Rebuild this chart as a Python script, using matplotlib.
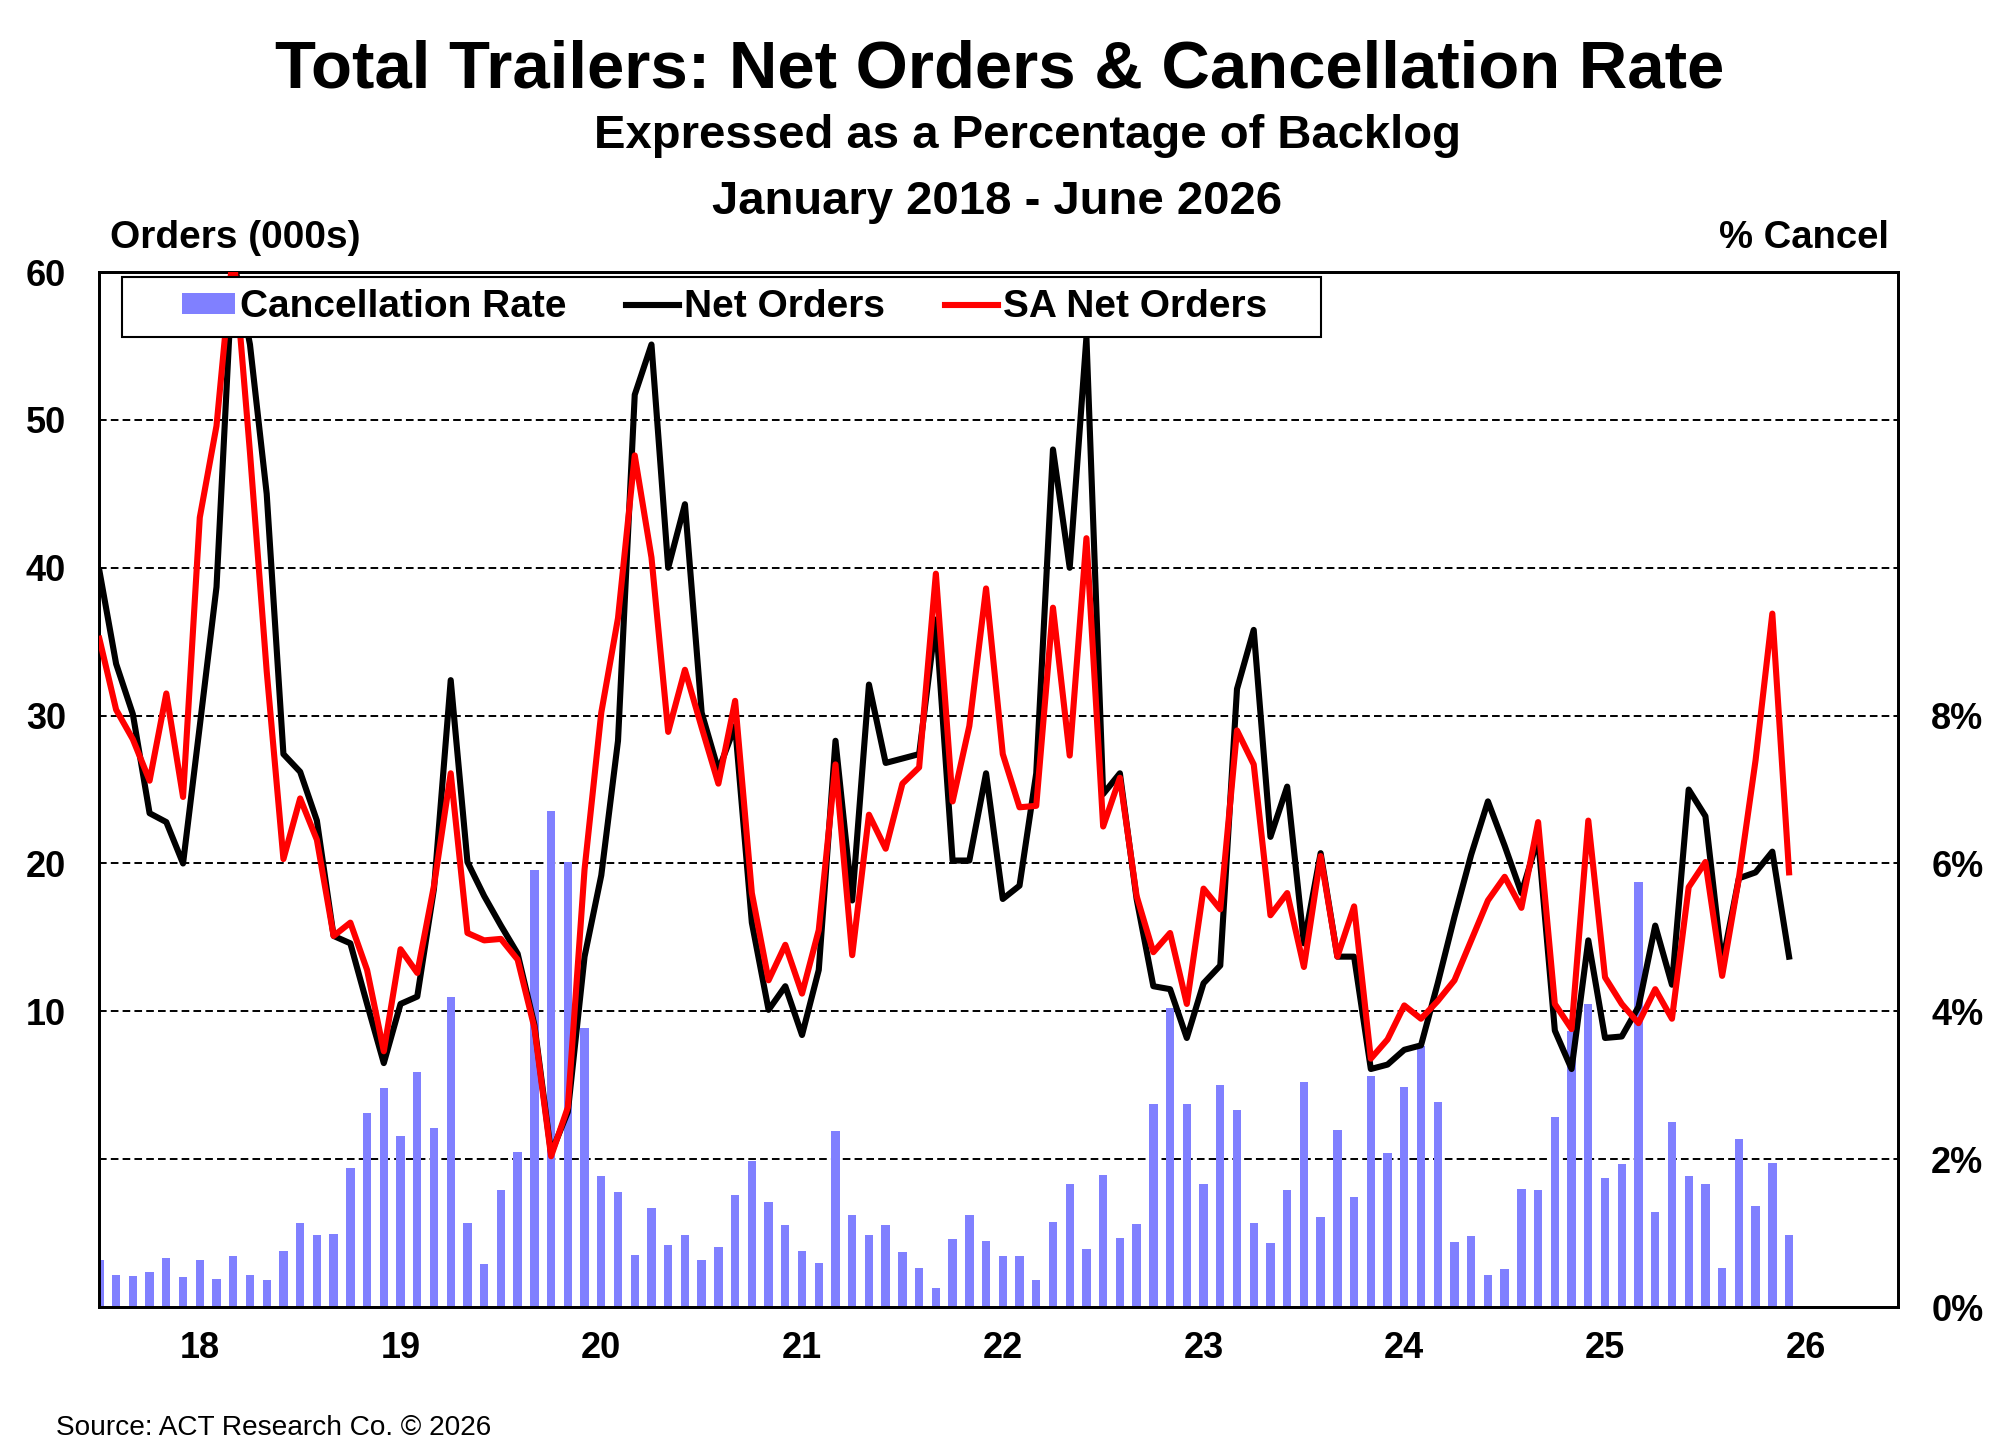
import numpy as np
import matplotlib
matplotlib.use('Agg')
import matplotlib.pyplot as plt
from matplotlib.patches import Patch, Rectangle
from matplotlib.lines import Line2D

plt.rcParams['font.family'] = ['Liberation Sans', 'DejaVu Sans']
plt.rcParams['font.weight'] = 'bold'
plt.rcParams['lines.scale_dashes'] = False

# monthly data, Jan 2018 - Jun 2026
net_orders = [39.8, 33.5, 30.1, 23.4, 22.8, 20.0, 29.3, 38.7, 61.0, 55.1, 45.0, 27.4,
              26.2, 22.9, 15.1, 14.6, 10.5, 6.5, 10.5, 11.0, 18.3, 32.4, 20.1, 17.8,
              15.8, 13.9, 9.1, 0.4, 3.2, 13.7, 19.2, 28.3, 51.7, 55.1, 40.0, 44.3,
              30.2, 26.3, 29.3, 16.0, 10.1, 11.7, 8.4, 12.8, 28.3, 17.5, 32.1, 26.8,
              27.1, 27.4, 36.5, 20.2, 20.2, 26.1, 17.6, 18.5, 26.1, 48.0, 40.0, 55.6,
              24.7, 26.1, 17.6, 11.7, 11.5, 8.2, 11.9, 13.1, 31.8, 35.8, 21.8, 25.2,
              14.6, 20.7, 13.7, 13.7, 6.1, 6.4, 7.4, 7.7, 11.9, 16.4, 20.6, 24.2,
              21.2, 18.0, 21.7, 8.7, 6.1, 14.8, 8.2, 8.3, 10.3, 15.8, 11.8, 25.0,
              23.2, 13.2, 19.0, 19.4, 20.8, 13.7]

sa_net_orders = [35.2, 30.4, 28.4, 25.6, 31.5, 24.5, 43.4, 49.6, 61.5, 47.8, 33.0, 20.3,
                 24.4, 21.6, 15.1, 16.0, 12.8, 7.3, 14.2, 12.6, 18.5, 26.1, 15.3, 14.8,
                 14.9, 13.5, 8.9, 0.2, 3.5, 19.6, 30.2, 36.6, 47.6, 40.7, 28.9, 33.1,
                 29.2, 25.4, 31.0, 18.0, 12.1, 14.5, 11.2, 15.5, 26.7, 13.8, 23.3, 21.0,
                 25.4, 26.5, 39.6, 24.2, 29.3, 38.6, 27.4, 23.8, 23.9, 37.3, 27.3, 42.0,
                 22.5, 25.8, 17.8, 14.0, 15.3, 10.5, 18.3, 16.9, 29.0, 26.7, 16.5, 18.0,
                 13.0, 20.5, 13.7, 17.1, 6.8, 8.1, 10.4, 9.5, 10.7, 12.1, 14.8, 17.5,
                 19.1, 17.0, 22.8, 10.5, 8.8, 22.9, 12.3, 10.5, 9.2, 11.5, 9.5, 18.4,
                 20.1, 12.4, 19.0, 27.0, 36.9, 19.4]

cancel_rate = [0.64, 0.44, 0.42, 0.48, 0.67, 0.41, 0.64, 0.38, 0.69, 0.44, 0.37, 0.76,
               1.14, 0.97, 0.99, 1.88, 2.62, 2.96, 2.32, 3.18, 2.42, 4.19, 1.14, 0.58,
               1.58, 2.10, 5.91, 6.71, 6.02, 3.78, 1.77, 1.56, 0.71, 1.34, 0.84, 0.97,
               0.64, 0.81, 1.52, 1.98, 1.42, 1.11, 0.76, 0.60, 2.38, 1.24, 0.97, 1.11,
               0.74, 0.53, 0.26, 0.92, 1.24, 0.90, 0.69, 0.69, 0.37, 1.15, 1.67, 0.79,
               1.79, 0.93, 1.13, 2.75, 4.05, 2.74, 1.66, 3.00, 2.66, 1.14, 0.87, 1.58,
               3.05, 1.22, 2.39, 1.49, 3.12, 2.09, 2.97, 3.53, 2.77, 0.88, 0.96, 0.44,
               0.51, 1.60, 1.58, 2.57, 3.73, 4.10, 1.74, 1.93, 5.75, 1.28, 2.50, 1.77,
               1.66, 0.53, 2.27, 1.37, 1.95, 0.98]

year_labels = ['18', '19', '20', '21', '22', '23', '24', '25', '26']
order_ticks = [10, 20, 30, 40, 50, 60]
cancel_ticks = [0, 2, 4, 6, 8]

months = np.arange(len(net_orders))

fig = plt.figure(figsize=(20, 14.51), dpi=100)
ax = fig.add_axes([0.0497, 0.0992, 0.8992, 0.7133])
ax2 = ax.twinx()

# cancellation rate bars (right axis)
ax.bar(months, cancel_rate, width=0.5, color='#8080FF', zorder=2)
for g in range(2, 13, 2):
    ax.axhline(g, color='black', lw=1.4, linestyle=(0, (5.5, 3)), zorder=1)
ax.set_ylim(0, 14)
ax.set_yticks(cancel_ticks)
ax.set_yticklabels([f'{t}%' for t in cancel_ticks])
ax.yaxis.tick_right()
ax.set_xlim(0, 107.5)
ax.set_xticks([6 + 12 * k for k in range(len(year_labels))])
ax.set_xticklabels(year_labels)
ax.tick_params(axis='y', length=0, pad=24, labelsize=26)
ax.tick_params(axis='x', length=0, pad=17, labelsize=26)

# orders lines (left axis)
ax2.plot(months, net_orders, color='black', lw=4.4, zorder=3)
ax2.plot(months, sa_net_orders, color='#FF0000', lw=4.4, zorder=4)
ax2.set_ylim(-10, 60)
ax2.set_yticks(order_ticks)
ax2.yaxis.tick_left()
ax2.tick_params(axis='y', length=0, pad=24, labelsize=26)

for a in (ax, ax2):
    for s in a.spines.values():
        s.set_linewidth(2)

# legend with its own box
ax2.add_patch(Rectangle((0.0126, 0.9372), 0.6667, 0.058, transform=ax2.transAxes,
                        facecolor='white', edgecolor='black', lw=1.5, zorder=5, clip_on=False))
handles = [Patch(facecolor='#8080FF'),
           Line2D([], [], color='black', lw=4.4),
           Line2D([], [], color='#FF0000', lw=4.4)]
leg = ax2.legend(handles, ['Cancellation Rate', 'Net Orders', 'SA Net Orders'],
                 ncol=3, loc='center left', bbox_to_anchor=(0.046, 0.966),
                 frameon=False, fontsize=28, handlelength=1.35, handleheight=0.46,
                 handletextpad=0.13, columnspacing=1.55, borderpad=0, borderaxespad=0)
leg.set_zorder(6)

fig.text(0.5, 1 - 88 / 1451, 'Total Trailers: Net Orders & Cancellation Rate',
         ha='center', va='baseline', fontsize=48.3, weight='bold')
fig.text(0.514, 1 - 148 / 1451, 'Expressed as a Percentage of Backlog',
         ha='center', va='baseline', fontsize=34, weight='bold')
fig.text(0.4985, 1 - 214 / 1451, 'January 2018 - June 2026',
         ha='center', va='baseline', fontsize=34, weight='bold')
fig.text(110 / 2000, 1 - 248 / 1451, 'Orders (000s)', ha='left', va='baseline',
         fontsize=28, weight='bold')
fig.text(1889 / 2000, 1 - 248 / 1451, '% Cancel', ha='right', va='baseline',
         fontsize=27.5, weight='bold')
fig.text(56 / 2000, 1 - 1435 / 1451, 'Source: ACT Research Co. \u00a9 2026', ha='left',
         va='baseline', fontsize=20.2, weight='normal')

fig.savefig('out.png', dpi=100)
